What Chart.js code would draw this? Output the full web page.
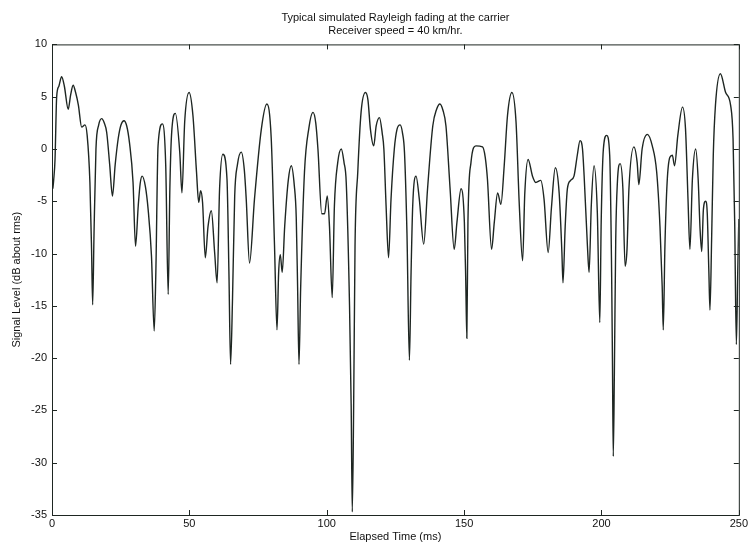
<!DOCTYPE html>
<html>
<head>
<meta charset="utf-8">
<title>Rayleigh fading</title>
<script src="https://cdn.jsdelivr.net/npm/chart.js@4/dist/chart.umd.min.js"></script>
<style>
  html, body { margin: 0; padding: 0; background: #fff; }
  #wrap { width: 750px; height: 550px; }
</style>
</head>
<body>
<div id="wrap"><canvas id="chart" width="750" height="550"></canvas></div>
<script>
// elapsed time (ms)
var times = [
  0.3, 0.6, 1.1, 1.7, 2.5, 3.5, 4.5, 5.9, 6.8, 7.7, 8.6, 9.6, 10.8, 12.0, 12.8,
  13.8, 14.4, 14.8, 15.3, 16.0, 17.0, 18.1, 19.0, 19.9, 21.0, 22.0, 23.0, 24.1,
  25.1, 26.2, 27.2, 28.2, 29.5, 30.4, 31.4, 32.1, 32.8, 34.0, 35.0, 36.2, 37.2,
  37.8, 38.6, 40.2, 41.4, 42.3, 42.9, 43.5, 44.9, 46.5, 47.3, 48.3, 49.9, 51.3,
  52.6, 53.4, 54.1, 54.8, 55.8, 56.8, 58.0, 59.2, 60.1, 61.0, 62.2, 63.7, 64.4,
  65.0, 65.7, 66.5, 67.5, 68.9, 70.0, 70.7, 71.9, 73.7, 76.2, 78.2, 79.8, 81.0,
  81.9, 82.5, 83.1, 83.8, 84.7, 86.0, 87.1, 88.2, 88.9, 89.4, 89.9, 90.5, 91.9,
  93.5, 95.0, 96.0, 96.8, 98.2, 99.2, 100.2, 101.0, 102.0, 102.8, 104.0, 105.3,
  106.3, 107.1, 108.3, 108.9, 109.3, 109.8, 110.3, 111.3, 112.5, 114.1, 115.0,
  115.9, 117.1, 118.0, 119.2, 120.2, 120.8, 121.6, 122.5, 123.4, 124.6, 125.6,
  126.7, 127.6, 128.3, 129.2, 130.1, 130.7, 131.3, 132.5, 133.7, 135.3, 136.7,
  138.6, 140.0, 141.2, 142.3, 143.4, 144.9, 146.4, 147.4, 148.9, 150.1, 150.6,
  151.0, 151.4, 152.5, 154.3, 156.7, 157.7, 158.5, 160.0, 161.0, 162.2, 163.4,
  164.6, 165.8, 167.4, 168.9, 170.1, 171.3, 172.1, 173.3, 174.9, 176.1, 177.9,
  179.1, 180.6, 181.8, 183.2, 184.6, 185.6, 186.0, 186.8, 187.6, 188.8, 190.0,
  191.2, 192.2, 193.1, 193.7, 194.9, 195.5, 196.3, 197.3, 198.5, 199.4, 199.9,
  200.7, 201.9, 203.0, 203.7, 204.0, 204.3, 204.7, 205.2, 205.8, 206.8, 207.8,
  208.6, 209.3, 210.0, 211.8, 213.0, 213.6, 214.8, 216.7, 218.5, 220.1, 221.3,
  222.1, 222.5, 223.1, 223.9, 224.9, 225.8, 226.6, 227.8, 229.5, 230.6, 231.5,
  232.2, 233.1, 234.3, 235.2, 235.9, 236.5, 237.1, 237.9, 238.5, 239.1, 239.5,
  240.1, 240.7, 241.5, 243.3, 245.2, 247.0, 247.9, 248.5, 249.1, 249.6, 250.0
];

// signal level (dB about rms)
var levels = [
  -3.8, -3.0, -1.0, 5.0, 6.0, 6.9, 6.0, 3.8, 5.2, 6.1, 5.4, 4.2, 2.1, 2.3, 1.3,
  -3.2, -9.6, -14.9, -8.0, 0.0, 2.3, 2.9, 2.5, 1.6, -1.5, -4.5, -1.5, 1.0,
  2.3, 2.7, 2.2, 0.6, -3.2, -9.3, -5.4, -3.3, -2.6, -3.6, -5.8, -10.2, -17.4,
  -11.8, 0.3, 2.4, -1.6, -13.9, -3.8, 1.3, 3.4, -0.3, -4.2, 2.6, 5.4, 3.2,
  -2.2, -5.1, -4.0, -5.1, -10.4, -7.4, -5.9, -9.9, -12.8, -3.8, -0.5, -2.9, -11.8,
  -20.6, -14.4, -4.5, -1.5, -0.3, -2.0, -4.8, -10.9, -4.8, 1.9, 4.3, 1.0, -9.3,
  -17.3, -11.8, -10.1, -11.8, -7.4, -3.0, -1.6, -3.5, -6.5, -13.2, -20.6, -13.4, -2.2,
  2.0, 3.5, 2.5, 0.0, -6.2, -6.2, -4.5, -7.4, -14.2, -5.4, -1.3, 0.0,
  -1.3, -3.2, -15.0, -24.6, -34.7, -24.6, -9.3, -2.2, 3.5, 5.4, 4.7,
  1.9, 0.3, 2.2, 3.0, 1.5, 0.0, -5.4, -10.4, -4.8, 0.0, 1.9,
  2.3, 1.5, -0.3, -8.0, -20.2, -11.8, -5.4, -2.6, -4.8, -9.1, -3.8,
  2.2, 3.8, 4.3, 3.7, 2.2, -3.8, -9.6, -7.0, -3.8, -7.0, -12.5,
  -18.1, -7.0, -1.3, 0.3, 0.2, -0.8, -2.9, -9.6, -7.0, -4.2, -5.3,
  -1.6, 3.2, 5.4, 2.6, -5.4, -10.7, -4.2, -1.0, -2.6, -3.2, -3.0,
  -4.8, -9.9, -5.6, -1.8, -4.2, -9.9, -12.8, -7.4, -3.8, -3.0, -2.6,
  -0.6, 0.8, 0.0, -2.6, -9.3, -11.8, -5.4, -1.6, -6.1, -16.6, -7.0,
  0.0, 1.3, -0.6, -11.8, -20.2, -29.4, -21.4, -8.6, -3.2, -1.4, -3.8,
  -11.2, -9.6, -3.8, 0.2, -1.3, -3.4, 0.0, 1.4, 0.3, -2.2, -7.4,
  -13.1, -17.3, -9.3, -3.2, -0.8, -0.6, -1.6, 1.3, 4.0, 1.9, -4.8,
  -9.6, -2.9, 0.0, -2.9, -7.7, -9.8, -5.8, -5.0, -6.1, -11.8, -15.4,
  -8.6, -0.6, 4.2, 7.2, 5.4, 4.2, 1.0, -7.0, -18.7, -11.8, -6.7
];

var xTicks = [0, 50, 100, 150, 200, 250];
var yTicks = [10, 5, 0, -5, -10, -15, -20, -25, -30, -35];

var titleLines = ['Typical simulated Rayleigh fading at the carrier', 'Receiver speed = 40 km/hr.'];

var points = times.map(function(t, i) { return { x: t, y: levels[i] }; });

var ink = '#1e2622';
var font = { family: "'Liberation Sans', Arial, sans-serif", size: 11, weight: 'normal' };

// box around the plot plus inward tick marks on all four sides
var boxTicks = {
  id: 'boxTicks',
  afterDraw: function(chart) {
    var ctx = chart.ctx;
    var a = chart.chartArea;
    var xs = chart.scales.x, ys = chart.scales.y;
    var len = 5;
    ctx.save();
    ctx.strokeStyle = ink;
    ctx.lineWidth = 1;
    ctx.strokeRect(a.left + 0.5, a.top + 0.5, a.right - a.left, a.bottom - a.top);
    ctx.beginPath();
    xTicks.forEach(function(v) {
      var px = Math.round(xs.getPixelForValue(v)) + 0.5;
      ctx.moveTo(px, a.bottom); ctx.lineTo(px, a.bottom - len);
      ctx.moveTo(px, a.top); ctx.lineTo(px, a.top + len);
    });
    yTicks.forEach(function(v) {
      var py = Math.round(ys.getPixelForValue(v)) + 0.5;
      ctx.moveTo(a.left, py); ctx.lineTo(a.left + len, py);
      ctx.moveTo(a.right, py); ctx.lineTo(a.right - len, py);
    });
    ctx.stroke();
    ctx.restore();
  }
};

new Chart(document.getElementById('chart'), {
  type: 'line',
  data: {
    datasets: [{
      data: points,
      borderColor: ink,
      borderWidth: 1.4,
      pointRadius: 0,
      fill: false,
      cubicInterpolationMode: 'monotone'
    }]
  },
  plugins: [boxTicks],
  options: {
    responsive: false,
    animation: false,
    layout: { padding: { left: 10, right: 10, top: 0, bottom: 6 } },
    plugins: {
      legend: { display: false },
      tooltip: { enabled: false },
      title: {
        display: true,
        text: titleLines,
        color: '#111',
        font: font,
        fullSize: false,
        padding: { top: 11, bottom: 7 },
        lineHeight: 1.15
      }
    },
    scales: {
      x: {
        type: 'linear',
        min: 0,
        max: 250,
        afterBuildTicks: function(s) { s.ticks = xTicks.map(function(v) { return { value: v }; }); },
        afterFit: function(s) { s.height = 29; },
        grid: { display: false, drawTicks: false },
        border: { display: false },
        ticks: { color: '#111', font: font, padding: 2, maxRotation: 0 },
        title: { display: true, text: 'Elapsed Time (ms)', color: '#111', font: font, padding: { top: 0, bottom: 0 } }
      },
      y: {
        type: 'linear',
        min: -35,
        max: 10,
        afterBuildTicks: function(s) { s.ticks = yTicks.map(function(v) { return { value: v }; }); },
        afterFit: function(s) { s.width = 42; },
        grid: { display: false, drawTicks: false },
        border: { display: false },
        ticks: { color: '#111', font: font, padding: 5 },
        title: { display: true, text: 'Signal Level (dB about rms)', color: '#111', font: font, padding: { top: 0, bottom: 2 } }
      }
    }
  }
});
</script>
</body>
</html>
